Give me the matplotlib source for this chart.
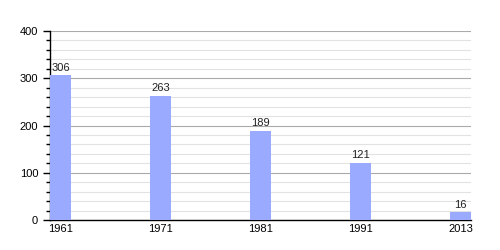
import matplotlib
matplotlib.use("Agg")
import matplotlib.pyplot as plt
from matplotlib.ticker import MultipleLocator

years = ["1961", "1971", "1981", "1991", "2013"]
values = [306, 263, 189, 121, 16]

plt.rcParams['font.family'] = ['Liberation Sans', 'DejaVu Sans']

fig = plt.figure(figsize=(5, 2.5), dpi=100)
ax = fig.add_axes([0.1, 0.12, 0.842, 0.756])

w = 0.21
xs = list(range(len(years)))
ax.bar(xs, values, width=w, align='edge', color='#99aaff', zorder=3)
for x, v in zip(xs, values):
    ax.text(x + w / 2, v + 5, str(v), ha='center', va='bottom', fontsize=8, color='#222222', zorder=4)

ax.set_xlim(0, len(years) - 1 + w)
ax.set_ylim(0, 400)
ax.set_xticks([x + w / 2 for x in xs])
ax.set_xticklabels(years, fontsize=8)
ax.tick_params(axis='x', length=0, pad=3)

ax.yaxis.set_major_locator(MultipleLocator(100))
ax.yaxis.set_minor_locator(MultipleLocator(20))
ax.tick_params(axis='y', which='major', length=5, width=1, labelsize=8, direction='out')
ax.tick_params(axis='y', which='minor', length=3, width=1, direction='out')

ax.grid(axis='y', which='major', color='#aaaaaa', linewidth=0.8, zorder=0)
ax.grid(axis='y', which='minor', color='#e2e2e2', linewidth=0.8, zorder=0)
ax.set_axisbelow(True)

for s in ['top', 'right']:
    ax.spines[s].set_visible(False)
ax.spines['left'].set_linewidth(1)
ax.spines['bottom'].set_linewidth(1)

fig.savefig("out.png", dpi=100)
